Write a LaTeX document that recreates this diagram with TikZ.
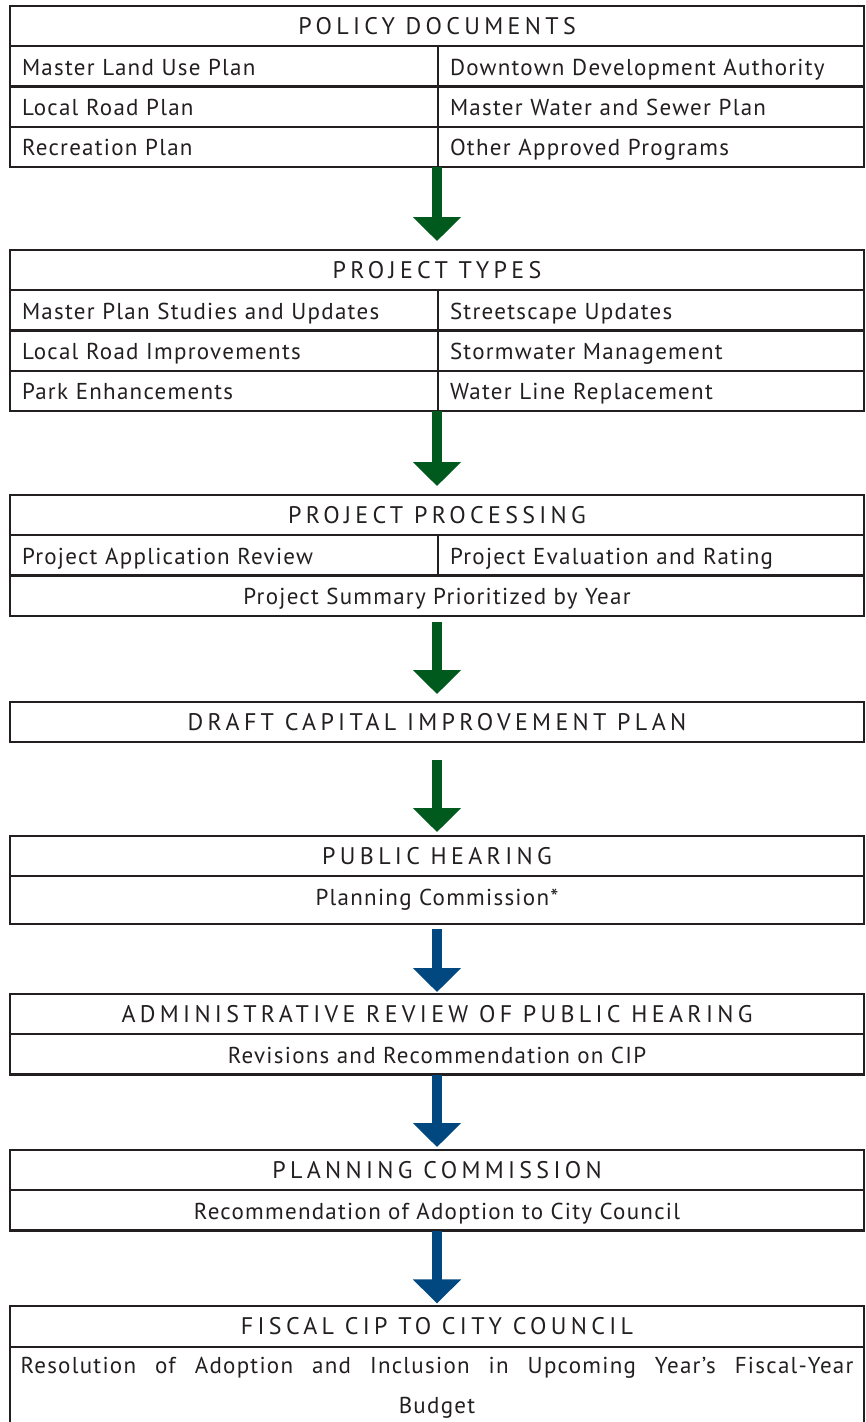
\documentclass[tikz,border=0pt]{standalone}
\usepackage{fontspec}
\setmainfont{PT Sans}
\newfontfamily\bodyfont[LetterSpace=5.5]{PT Sans}
\newfontfamily\capsfont[LetterSpace=18]{PT Sans}
\usetikzlibrary{positioning,arrows.meta}
\definecolor{ink}{HTML}{231F20}
\definecolor{flow-green}{HTML}{005A1E}
\definecolor{flow-blue}{HTML}{00487F}
\tikzset{
    cell/.style = {draw=ink, line width=2.2pt, rectangle, inner sep=0pt, outer sep=0pt, minimum height=40.25pt, text=ink, text height=21pt, text depth=3pt, font=\bodyfont\fontsize{23}{28}\selectfont},
    head-cell/.style = {cell, minimum width=854pt, text height={}, text depth={}, font=\capsfont\fontsize{24}{28}\selectfont},
    full-cell/.style = {cell, minimum width=854pt},
    left-cell/.style = {cell, minimum width=428pt, text width=404pt, inner xsep=12pt, align=left},
    right-cell/.style = {cell, minimum width=426pt, text width=402pt, inner xsep=12pt, align=left},
    green-arrow/.style = {draw=flow-green, line width=10pt, -{Triangle[length=24pt 0 0, width=47pt 0 0]}},
    blue-arrow/.style = {green-arrow, draw=flow-blue},
}
\begin{document}
\begin{tikzpicture}[x=1pt, y=1pt]
\useasboundingbox (0,0) rectangle (865,-1422);

\node[head-cell] (pd) at (437,-26.125) {POLICY DOCUMENTS};
\node[left-cell, anchor=north west] (pd-a) at (pd.south west) {Master Land Use Plan};
\node[right-cell, anchor=north east] (pd-b) at (pd.south east) {Downtown Development Authority};
\node[left-cell, below=0pt of pd-a] (pd-c) {Local Road Plan};
\node[right-cell, below=0pt of pd-b] (pd-d) {Master Water and Sewer Plan};
\node[left-cell, below=0pt of pd-c] (pd-e) {Recreation Plan};
\node[right-cell, below=0pt of pd-d] (pd-f) {Other Approved Programs};

\node[head-cell] (pt) at (437,-270.125) {PROJECT TYPES};
\node[left-cell, anchor=north west] (pt-a) at (pt.south west) {Master Plan Studies and Updates};
\node[right-cell, anchor=north east] (pt-b) at (pt.south east) {Streetscape Updates};
\node[left-cell, below=0pt of pt-a] (pt-c) {Local Road Improvements};
\node[right-cell, below=0pt of pt-b] (pt-d) {Stormwater Management};
\node[left-cell, below=0pt of pt-c] (pt-e) {Park Enhancements};
\node[right-cell, below=0pt of pt-d] (pt-f) {Water Line Replacement};

\node[head-cell] (pp) at (437,-515.125) {PROJECT PROCESSING};
\node[left-cell, anchor=north west] (pp-a) at (pp.south west) {Project Application Review};
\node[right-cell, anchor=north east] (pp-b) at (pp.south east) {Project Evaluation and Rating};
\node[full-cell, anchor=north west] (pp-c) at (pp-a.south west) {Project Summary Prioritized by Year};

\node[head-cell] (dc) at (437,-722.125) {DRAFT CAPITAL IMPROVEMENT PLAN};

\node[head-cell] (ph) at (437,-856.125) {PUBLIC HEARING};
\node[full-cell, minimum height=48pt, text depth=11pt, below=0pt of ph] (ph-a) {Planning Commission*};

\node[head-cell] (ar) at (437,-1014.125) {ADMINISTRATIVE REVIEW OF PUBLIC HEARING};
\node[full-cell, below=0pt of ar] (ar-a) {Revisions and Recommendation on CIP};

\node[head-cell] (pc) at (437,-1170.125) {PLANNING COMMISSION};
\node[full-cell, below=0pt of pc] (pc-a) {Recommendation of Adoption to City Council};

\node[head-cell] (fc) at (437,-1326.5) {FISCAL CIP TO CITY COUNCIL};
\node[full-cell, minimum height=83pt, text height={}, text depth={}, text width=833pt, align=center, font=\bodyfont\fontsize{23}{40}\selectfont, below=0pt of fc] (fc-a)
    {\makebox[833pt]{Resolution\hfill of\hfill Adoption\hfill and\hfill Inclusion\hfill in\hfill Upcoming\hfill Year’s\hfill Fiscal-Year}\\Budget};

\draw[green-arrow, shorten >=9pt] (pd.south |- pd-e.south) -- (pt.north);
\draw[green-arrow, shorten >=9pt] (pt.south |- pt-e.south) -- (pp.north);
\draw[green-arrow, shorten <=6pt, shorten >=8pt] (pp-c.south) -- (dc.north);
\draw[green-arrow, shorten <=18pt, shorten >=4pt] (dc.south) -- (ph.north);
\draw[blue-arrow, shorten <=5pt, shorten >=2pt] (ph-a.south) -- (ar.north);
\draw[blue-arrow, shorten >=3pt] (ar-a.south) -- (pc.north);
\draw[blue-arrow, shorten >=3pt] (pc-a.south) -- (fc.north);
\end{tikzpicture}
\end{document}
